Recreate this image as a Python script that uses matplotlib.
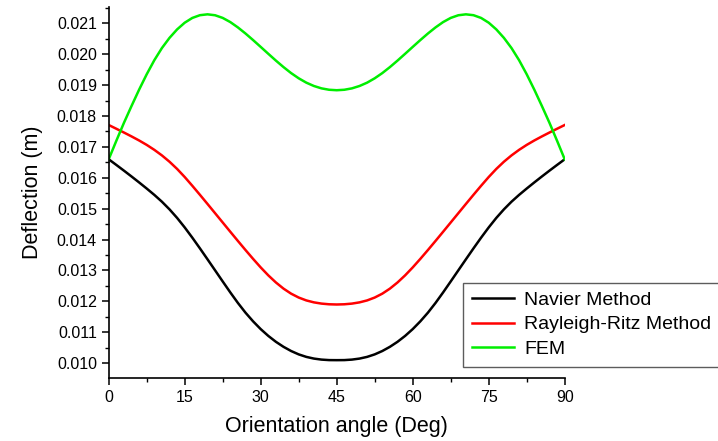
# Deflection vs orientation angle

import numpy as np
from matplotlib import pyplot as plt
from matplotlib.ticker import MultipleLocator, FormatStrFormatter

plt.rcParams['font.family'] = ['Liberation Sans', 'DejaVu Sans']

angle = np.arange(0, 90.1, 1.5)

# values read from 0..45 deg (step 1.5), curves are symmetric about 45 deg
navier_half = [0.016600, 0.016418, 0.016233, 0.016044, 0.015851, 0.015653, 0.015448, 0.015227,
               0.014979, 0.014702, 0.014394, 0.014063, 0.013717, 0.013362, 0.013004, 0.012645,
               0.012290, 0.011949, 0.011634, 0.011353, 0.011102, 0.010882, 0.010691, 0.010529,
               0.010393, 0.010284, 0.010203, 0.010148, 0.010115, 0.010099, 0.010097]
rayleigh_half = [0.017710, 0.017589, 0.017467, 0.017341, 0.017209, 0.017066, 0.016906, 0.016726,
                 0.016521, 0.016288, 0.016026, 0.015743, 0.015451, 0.015154, 0.014854, 0.014554,
                 0.014254, 0.013956, 0.013662, 0.013375, 0.013099, 0.012842, 0.012612, 0.012413,
                 0.012250, 0.012124, 0.012031, 0.011968, 0.011928, 0.011906, 0.011899]
fem_half = [0.016600, 0.017197, 0.017778, 0.018324, 0.018854, 0.019352, 0.019807, 0.020201,
            0.020531, 0.020805, 0.021022, 0.021176, 0.021265, 0.021293, 0.021263, 0.021177,
            0.021042, 0.020869, 0.020672, 0.020459, 0.020238, 0.020015, 0.019795, 0.019585,
            0.019391, 0.019222, 0.019081, 0.018973, 0.018896, 0.018851, 0.018836]

navier = navier_half + navier_half[-2::-1]
rayleigh = rayleigh_half + rayleigh_half[-2::-1]
fem = fem_half + fem_half[-2::-1]

fig = plt.figure(figsize=(7.18, 4.41), dpi=100)
ax = fig.add_axes([0.1514, 0.1429, 0.6351, 0.8412])

ax.plot(angle, navier, color='black', lw=1.8, label='Navier Method')
ax.plot(angle, rayleigh, color='#ff0000', lw=1.8, label='Rayleigh-Ritz Method')
ax.plot(angle, fem, color='#00ee00', lw=1.8, label='FEM')

ax.set_xlim(0, 90)
ax.set_ylim(0.00952, 0.02153)
ax.xaxis.set_major_locator(MultipleLocator(15))
ax.xaxis.set_minor_locator(MultipleLocator(7.5))
ax.yaxis.set_major_locator(MultipleLocator(0.001))
ax.yaxis.set_minor_locator(MultipleLocator(0.0005))
ax.yaxis.set_major_formatter(FormatStrFormatter('%.3f'))

for side in ['top', 'right']:
    ax.spines[side].set_visible(False)
for side in ['left', 'bottom']:
    ax.spines[side].set_linewidth(1.2)

ax.tick_params(which='major', direction='out', length=5, width=1.1, labelsize=11.5)
ax.tick_params(which='minor', direction='out', length=3, width=1.0)

ax.set_xlabel('Orientation angle (Deg)', fontsize=15.5, labelpad=8)
ax.set_ylabel('Deflection (m)', fontsize=15.5, labelpad=10)

leg = fig.legend(loc='upper left', bbox_to_anchor=(0.6448, 0.359), fontsize=14,
                 frameon=True, fancybox=False, handlelength=2.2, borderaxespad=0,
                 labelspacing=0.35, borderpad=0.45, handletextpad=0.5)
leg.get_frame().set_edgecolor('#333333')
leg.get_frame().set_linewidth(1.0)

fig.savefig('out.png', dpi=100)
